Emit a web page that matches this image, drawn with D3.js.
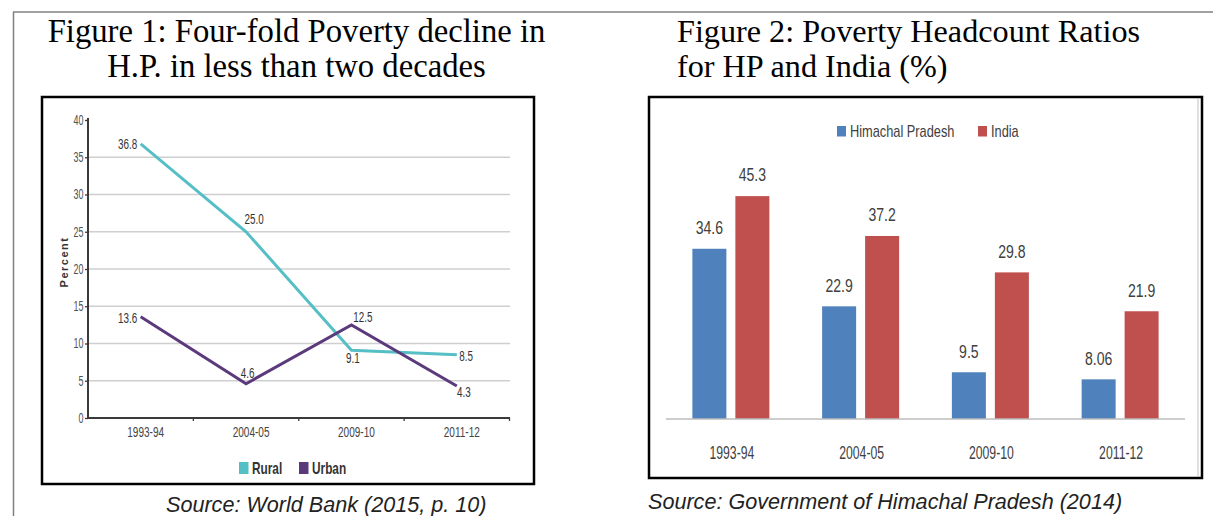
<!DOCTYPE html>
<html><head><meta charset="utf-8">
<script src="https://cdn.jsdelivr.net/npm/d3@7"></script>
<style>body{margin:0;background:#fff}svg{display:block}</style>
</head><body><svg id="c" width="1213" height="516"></svg>
<script>
// ---------- data ----------
const categories = ["1993-94", "2004-05", "2009-10", "2011-12"];
const series1 = ["Rural", "Urban"];
const ruralValues = [36.8, 25.0, 9.1, 8.5];
const urbanValues = [13.6, 4.6, 12.5, 4.3];
const ruralLabels = ["36.8", "25.0", "9.1", "8.5"];
const urbanLabels = ["13.6", "4.6", "12.5", "4.3"];
const yTicks1 = [0, 5, 10, 15, 20, 25, 30, 35, 40];
const yTitle1 = "Percent";

const series2 = ["Himachal Pradesh", "India"];
const hpValues = [34.6, 22.9, 9.5, 8.06];
const indiaValues = [45.3, 37.2, 29.8, 21.9];
const hpLabels = ["34.6", "22.9", "9.5", "8.06"];
const indiaLabels = ["45.3", "37.2", "29.8", "21.9"];

const title1 = ["Figure 1: Four-fold Poverty decline in", "H.P. in less than two decades"];
const title2 = ["Figure 2: Poverty Headcount Ratios", "for HP and India (%)"];
const source1 = "Source: World Bank (2015, p. 10)";
const source2 = "Source: Government of Himachal Pradesh (2014)";

// ---------- styles / placement ----------
const C_RURAL = "#56bfc6", C_URBAN = "#5b3a7c", C_HP = "#4f81bd", C_IN = "#c0504d";
const SANS = "'Liberation Sans', Arial, sans-serif";
const SERIF = "'Liberation Serif', 'Times New Roman', serif";
// label offsets relative to each point [dx, dy, anchor]
const ruralPlace = [[-3.5, 0, "end"], [-1.5, -12, "start"], [1.5, 8, "middle"], [2.5, 2, "start"]];
const urbanPlace = [[-3.5, 2, "end"], [1.5, -10, "middle"], [11.5, -8, "middle"], [7, 6, "middle"]];

const svg = d3.select("#c");

function stext(g, x, y, str, o) {
  const t = g.append("text")
    .attr("transform", `translate(${x},${y}) scale(${o.sx || 1},1)`)
    .attr("text-anchor", o.anchor || "start")
    .attr("dominant-baseline", o.base || "auto")
    .attr("font-family", o.family || SANS)
    .attr("font-size", o.size)
    .attr("font-weight", o.weight || "normal")
    .attr("font-style", o.style || "normal")
    .attr("fill", o.fill || "#000")
    .text(str);
  if (o.ls) t.attr("letter-spacing", o.ls);
  return t;
}

// page frame lines
svg.append("line").attr("x1", 13).attr("x2", 1213).attr("y1", 12).attr("y2", 12).attr("stroke", "#808080").attr("stroke-width", 1.5);
svg.append("line").attr("x1", 13.5).attr("x2", 13.5).attr("y1", 12).attr("y2", 516).attr("stroke", "#808080").attr("stroke-width", 1.5);

// titles
title1.forEach((s, i) => stext(svg, 296.5, 42 + i * 35, s, {size: 32.7, family: SERIF, anchor: "middle"}));
title2.forEach((s, i) => stext(svg, 677, 42 + i * 35, s, {size: 32.2, family: SERIF}));

// ---------- Chart 1 ----------
const g1 = svg.append("g");
g1.append("rect").attr("x", 42).attr("y", 97).attr("width", 492).attr("height", 387)
  .attr("fill", "none").attr("stroke", "#000").attr("stroke-width", 2.5);

const x1 = d3.scaleBand().domain(categories).range([88, 509.5]);
const y1 = d3.scaleLinear().domain([0, 40]).range([418, 120]);
const cx = c => x1(c) + x1.bandwidth() / 2;

// gridlines
g1.selectAll(".grid").data(yTicks1.filter(v => v > 0 && v < 40)).join("line")
  .attr("x1", 88).attr("x2", 510).attr("y1", d => y1(d)).attr("y2", d => y1(d))
  .attr("stroke", "#cfcfcf").attr("stroke-width", 1.3);

// y axis
const ya = g1.append("g").attr("transform", "translate(88,0)")
  .call(d3.axisLeft(y1).tickValues(yTicks1).tickSize(3).tickPadding(0));
ya.select(".domain").attr("stroke", "#3a3a3a").attr("stroke-width", 2).attr("d", `M0,${y1(40) - 2}V${y1(0)}`);
ya.selectAll(".tick line").attr("stroke", "#3a3a3a").attr("stroke-width", 1.3);
ya.selectAll(".tick text").attr("x", -4.5 / 0.64).attr("transform", "scale(0.64,1)")
  .attr("font-family", SANS).attr("font-size", 14).attr("fill", "#505050");

// x axis
const xa = g1.append("g").attr("transform", `translate(0,${y1(0)})`)
  .call(d3.axisBottom(x1).tickSize(0).tickFormat(""));
xa.select(".domain").attr("stroke", "#3a3a3a").attr("stroke-width", 2).attr("d", "M87,0H510");
const bounds = categories.slice(1).map(c => x1(c)).concat([509.5]);
g1.selectAll(".xt").data(bounds).join("line")
  .attr("x1", d => d).attr("x2", d => d).attr("y1", y1(0)).attr("y2", y1(0) + 3)
  .attr("stroke", "#3a3a3a").attr("stroke-width", 1.3);
categories.forEach(c => stext(g1, cx(c) + 5, 432, c, {size: 15, sx: 0.67, anchor: "middle", base: "central", fill: "#454545"}));

// y title
g1.append("text").attr("transform", "translate(64,262) rotate(-90)")
  .attr("text-anchor", "middle").attr("dominant-baseline", "central")
  .attr("font-family", SANS).attr("font-size", 11).attr("font-weight", "bold")
  .attr("letter-spacing", 1.5).attr("fill", "#333").text(yTitle1);

// lines
const line = d3.line().x((d, i) => cx(categories[i])).y(d => y1(d));
g1.append("path").datum(ruralValues).attr("d", line).attr("fill", "none")
  .attr("stroke", C_RURAL).attr("stroke-width", 3);
g1.append("path").datum(urbanValues).attr("d", line).attr("fill", "none")
  .attr("stroke", C_URBAN).attr("stroke-width", 3);

// data labels
ruralValues.forEach((v, i) => {
  const p = ruralPlace[i];
  stext(g1, cx(categories[i]) + p[0], y1(v) + p[1], ruralLabels[i], {size: 14.5, sx: 0.68, anchor: p[2], base: "central", fill: "#333"});
});
urbanValues.forEach((v, i) => {
  const p = urbanPlace[i];
  stext(g1, cx(categories[i]) + p[0], y1(v) + p[1], urbanLabels[i], {size: 14.5, sx: 0.68, anchor: p[2], base: "central", fill: "#333"});
});

// legend
const leg1 = [[239, C_RURAL], [299, C_URBAN]];
series1.forEach((s, i) => {
  g1.append("rect").attr("x", leg1[i][0]).attr("y", 462).attr("width", 9.5).attr("height", 12).attr("fill", leg1[i][1]);
  stext(g1, leg1[i][0] + 13, 468.5, s, {size: 16, sx: 0.74, weight: "bold", base: "central", fill: "#333"});
});

stext(svg, 166, 512, source1, {size: 21.6, style: "italic", fill: "#222"});

// ---------- Chart 2 ----------
const g2 = svg.append("g");
g2.append("rect").attr("x", 649).attr("y", 97).attr("width", 553).attr("height", 381)
  .attr("fill", "none").attr("stroke", "#000").attr("stroke-width", 2.5);
g2.append("line").attr("x1", 1198).attr("x2", 1198).attr("y1", 99).attr("y2", 476).attr("stroke", "#d6d6d6").attr("stroke-width", 1.5);

const x0 = d3.scaleBand().domain(categories).range([666, 1185]);
const xin = d3.scaleBand().domain(series2).range([0, 77]).paddingInner(0.209);
const y2 = d3.scaleLinear().domain([0, 50]).range([419, 173]);
const gOff = c => x0(c) + (x0.bandwidth() - 77) / 2;

const barSets = [[hpValues, hpLabels, C_HP], [indiaValues, indiaLabels, C_IN]];
barSets.forEach(([vals, labs, col], si) => {
  g2.selectAll(".b" + si).data(vals).join("rect")
    .attr("x", (d, i) => gOff(categories[i]) + xin(series2[si]))
    .attr("y", d => y2(d)).attr("width", xin.bandwidth()).attr("height", d => y2(0) - y2(d))
    .attr("fill", col);
  vals.forEach((v, i) => {
    stext(g2, gOff(categories[i]) + xin(series2[si]) + xin.bandwidth() / 2, y2(v) - 21, labs[i],
      {size: 19, sx: 0.74, anchor: "middle", base: "central", fill: "#404040"});
  });
});

g2.append("line").attr("x1", 666).attr("x2", 1185).attr("y1", 419).attr("y2", 419)
  .attr("stroke", "#bdbdbd").attr("stroke-width", 1.5);
categories.forEach(c => stext(g2, x0(c) + x0.bandwidth() / 2 + 1, 453, c, {size: 17.5, sx: 0.7, anchor: "middle", base: "central", fill: "#404040"}));

// legend
const leg2 = [[837, C_HP], [978, C_IN]];
series2.forEach((s, i) => {
  g2.append("rect").attr("x", leg2[i][0]).attr("y", 126).attr("width", 9).attr("height", 10.5).attr("fill", leg2[i][1]);
  stext(g2, leg2[i][0] + 13, 131, s, {size: 16, sx: 0.8, base: "central", fill: "#404040"});
});

stext(svg, 648, 509, source2, {size: 21.6, style: "italic", fill: "#222"});
</script>
</body></html>
